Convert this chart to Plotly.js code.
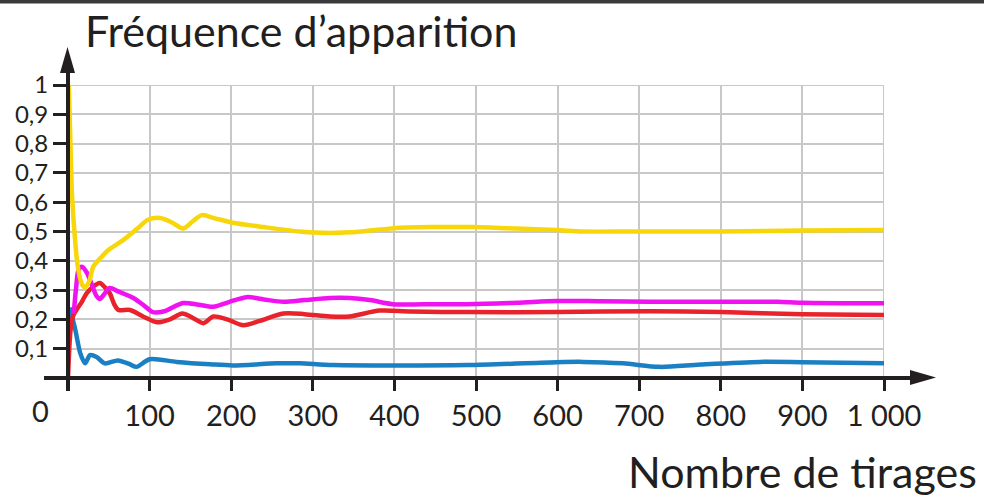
<!DOCTYPE html>
<html>
<head>
<meta charset="utf-8">
<script src="https://cdn.plot.ly/plotly-3.0.1.min.js"></script>
<style>html,body{margin:0;padding:0;background:#fff;}#chart{width:984px;height:499px;}</style>
</head>
<body>
<div id="chart"></div>
<script>
// ---- data ----
const yellowX = [1, 3, 5, 9, 12, 17, 21, 26, 31, 40, 51, 62, 72, 85, 98, 113, 128, 141, 153, 164, 180, 202, 240, 284, 321, 360, 403, 447, 496, 550, 599, 631, 692, 750, 800, 900, 1000];
const yellowY = [1, 0.8, 0.62, 0.46, 0.38, 0.32, 0.31, 0.33, 0.38, 0.41, 0.44, 0.46, 0.48, 0.51, 0.54, 0.546, 0.53, 0.51, 0.535, 0.556, 0.545, 0.53, 0.515, 0.50, 0.495, 0.50, 0.512, 0.515, 0.515, 0.51, 0.505, 0.50, 0.50, 0.50, 0.50, 0.503, 0.505];

const magentaX = [7, 10, 13, 17, 23, 29, 35, 39, 44, 51, 62, 80, 92, 104, 118, 141, 160, 178, 198, 219, 240, 264, 290, 321, 345, 370, 398, 450, 489, 550, 599, 650, 713, 800, 869, 900, 1000];
const magentaY = [0.22, 0.31, 0.37, 0.38, 0.36, 0.32, 0.28, 0.27, 0.285, 0.307, 0.295, 0.273, 0.25, 0.225, 0.228, 0.256, 0.25, 0.243, 0.26, 0.276, 0.268, 0.26, 0.266, 0.273, 0.273, 0.266, 0.252, 0.252, 0.252, 0.257, 0.263, 0.262, 0.26, 0.26, 0.26, 0.257, 0.255];

const redX = [0, 3, 6, 11, 17, 23, 30, 39, 45, 51, 57, 62, 76, 92, 109, 125, 140, 153, 166, 178, 195, 215, 235, 264, 290, 321, 345, 382, 420, 489, 599, 713, 800, 900, 1000];
const redY = [0, 0.16, 0.21, 0.235, 0.26, 0.29, 0.31, 0.324, 0.31, 0.29, 0.25, 0.232, 0.232, 0.21, 0.19, 0.2, 0.22, 0.205, 0.187, 0.21, 0.2, 0.18, 0.195, 0.22, 0.218, 0.21, 0.21, 0.23, 0.227, 0.225, 0.225, 0.228, 0.225, 0.218, 0.215];

const blueX = [2, 9, 15, 21, 27, 35, 45, 61, 75, 84, 100, 133, 174, 202, 256, 284, 325, 489, 599, 631, 680, 725, 775, 848, 900, 1000];
const blueY = [0.24, 0.164, 0.085, 0.05, 0.078, 0.072, 0.05, 0.06, 0.048, 0.038, 0.064, 0.055, 0.047, 0.043, 0.05, 0.05, 0.044, 0.044, 0.054, 0.055, 0.05, 0.038, 0.046, 0.055, 0.054, 0.05];

const xTickVals = [100, 200, 300, 400, 500, 600, 700, 800, 900, 1000];
const xTickText = ["100", "200", "300", "400", "500", "600", "700", "800", "900", "1\u00a0000"];
const yTickVals = [0.1, 0.2, 0.3, 0.4, 0.5, 0.6, 0.7, 0.8, 0.9, 1];
const yTickText = ["0,1", "0,2", "0,3", "0,4", "0,5", "0,6", "0,7", "0,8", "0,9", "1"];

const titleText = "Fréquence d\u2019apparition";
const xTitleText = "Nombre de tirages";

// ---- layout helpers (pixel -> paper) ----
const W = 984, H = 499;
const L = 68, R = 100, T = 85, B = 121;
const PW = W - L - R, PH = H - T - B;
const px = v => (v - L) / PW;
const py = v => (H - B - v) / PH;

function line(xs, ys, color) {
  return {
    x: xs, y: ys, type: 'scatter', mode: 'lines',
    line: {color: color, width: 4.5, shape: 'spline', smoothing: 0.8},
    cliponaxis: false, hoverinfo: 'skip', showlegend: false
  };
}

const traces = [
  line(blueX, blueY, '#1b7fc4'),
  line(redX, redY, '#e8232b'),
  line(magentaX, magentaY, '#f012f0'),
  line(yellowX, yellowY, '#f7d70a')
];

const font = "Lato, 'Open Sans', sans-serif";
const ink = '#231f20';
const grid = '#c8c8c8';

const layout = {
  width: W, height: H, autosize: false,
  margin: {l: L, r: R, t: T, b: B, pad: 0},
  paper_bgcolor: '#ffffff', plot_bgcolor: '#ffffff',
  font: {family: font, color: ink, size: 21},
  showlegend: false,
  xaxis: {
    range: [0, 1000], tickvals: xTickVals, ticktext: xTickText,
    ticks: 'outside', ticklen: 12, tickwidth: 3, tickcolor: ink,
    showgrid: true, gridcolor: grid, gridwidth: 2,
    zeroline: false, showline: false, fixedrange: true,
    tickfont: {family: font, size: 29, color: ink}
  },
  yaxis: {
    range: [0, 1], tickvals: yTickVals, ticktext: yTickText,
    ticks: 'outside', ticklen: 14, tickwidth: 3, tickcolor: ink,
    showgrid: true, gridcolor: grid, gridwidth: 2,
    zeroline: false, showline: false, fixedrange: true,
    tickfont: {family: font, size: 24, color: ink}
  },
  shapes: [
    // edge grid lines (top and right)
    {type: 'line', xref: 'x', yref: 'y', x0: 0, x1: 1000, y0: 1, y1: 1, line: {color: grid, width: 2}, layer: 'below'},
    {type: 'line', xref: 'x', yref: 'y', x0: 1000, x1: 1000, y0: 0, y1: 1, line: {color: grid, width: 2}, layer: 'below'},
    // top border
    {type: 'rect', xref: 'paper', yref: 'paper', x0: px(0), x1: px(W), y0: py(0), y1: py(3.5), fillcolor: '#3a3a3a', line: {width: 0}, layer: 'above'},
    // x axis line
    {type: 'line', xref: 'paper', yref: 'paper', x0: px(44), x1: px(915), y0: 0, y1: 0, line: {color: ink, width: 4}, layer: 'above'},
    // x axis arrow head
    {type: 'path', xref: 'paper', yref: 'paper', path: `M ${px(936)} ${py(377.5)} L ${px(910)} ${py(370)} L ${px(910)} ${py(385)} Z`, fillcolor: ink, line: {width: 0}, layer: 'above'},
    // y axis line
    {type: 'line', xref: 'paper', yref: 'paper', x0: 0, x1: 0, y0: py(391), y1: py(70), line: {color: ink, width: 4}, layer: 'above'},
    // y axis arrow head
    {type: 'path', xref: 'paper', yref: 'paper', path: `M ${px(67.5)} ${py(47)} L ${px(60)} ${py(73)} L ${px(75)} ${py(73)} Z`, fillcolor: ink, line: {width: 0}, layer: 'above'}
  ],
  annotations: [
    {text: titleText, xref: 'paper', yref: 'paper', x: px(83), y: py(31), xanchor: 'left', yanchor: 'middle', showarrow: false, font: {family: font, size: 43, color: ink}},
    {text: xTitleText, xref: 'paper', yref: 'paper', x: px(979), y: py(472), xanchor: 'right', yanchor: 'middle', showarrow: false, font: {family: font, size: 43, color: ink}},
    {text: '0', xref: 'paper', yref: 'paper', x: px(40), y: py(410), xanchor: 'center', yanchor: 'middle', showarrow: false, font: {family: font, size: 29, color: ink}}
  ]
};

Plotly.newPlot('chart', traces, layout, {displayModeBar: false, staticPlot: true});
</script>
</body>
</html>
